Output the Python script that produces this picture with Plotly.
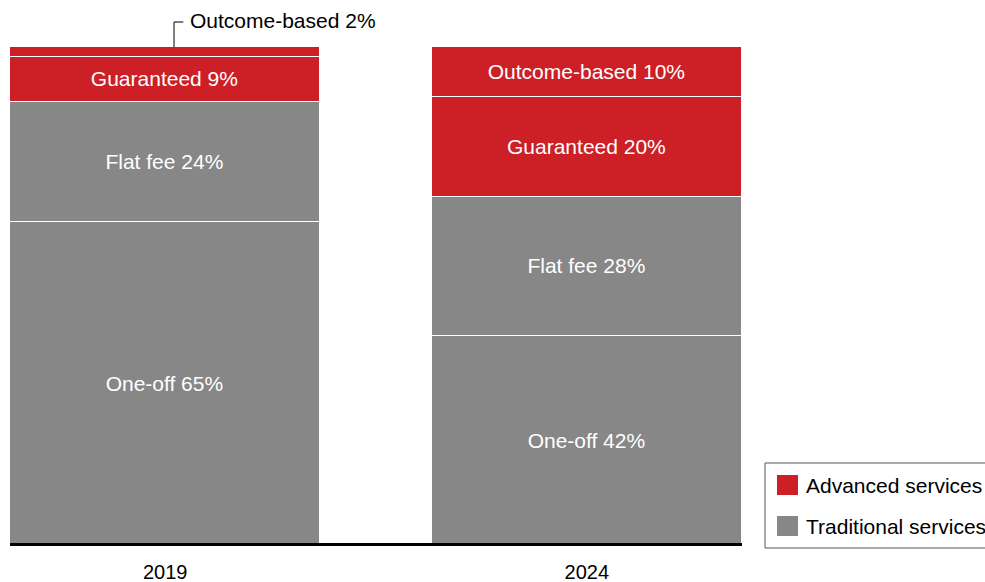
import plotly.graph_objects as go

years = ["2019", "2024"]
segments = ["One-off", "Flat fee", "Guaranteed", "Outcome-based"]
one_off = [65, 42]
flat_fee = [24, 28]
guaranteed = [9, 20]
outcome_based = [2, 10]
legend_labels = ["Advanced services", "Traditional services"]

RED = "#CC1F26"
GRAY = "#878787"
FONT = "Liberation Sans, Arial, sans-serif"

W, H = 985, 582
L, R, T, B = 10, 243, 47, 36
pw, ph = W - L - R, H - T - B

def pxx(x):
    return (x - L) / pw

def pyy(y):
    return (H - B - y) / ph

xpos = list(range(len(years)))
series = [
    ("One-off", one_off, GRAY),
    ("Flat fee", flat_fee, GRAY),
    ("Guaranteed", guaranteed, RED),
    ("Outcome-based", outcome_based, RED),
]

fig = go.Figure()
for name, vals, col in series:
    texts = []
    for v in vals:
        if name == "Outcome-based" and v < 5:
            texts.append("")
        else:
            texts.append(f"{name} {v}%")
    fig.add_trace(go.Bar(
        x=xpos, y=vals, name=name, width=0.736,
        marker=dict(color=col, line=dict(color="white", width=1.2)),
        text=texts, textposition="inside", insidetextanchor="middle",
        textfont=dict(color="white", size=21, family=FONT),
        showlegend=False, hoverinfo="skip",
    ))

# annotation for small 2019 outcome-based segment
small = outcome_based[0]
fig.add_annotation(
    x=0.0546, xref="x", y=pyy(21), yref="paper",
    text=f"Outcome-based {small}%", showarrow=False,
    xanchor="left", yanchor="middle",
    font=dict(size=21, color="black", family=FONT),
)
fig.add_shape(type="path", xref="x", yref="paper",
              path=f"M 0.021,{pyy(47)} L 0.021,{pyy(22)} L 0.043,{pyy(22)}",
              line=dict(color="black", width=1))

# baseline
fig.add_shape(type="line", xref="paper", yref="y", x0=0, x1=1, y0=0, y1=0,
              layer="above", line=dict(color="black", width=6))

# manual legend
fig.add_shape(type="rect", xref="paper", yref="paper",
              x0=pxx(765), x1=pxx(995), y0=pyy(548), y1=pyy(463),
              line=dict(color="#555555", width=1), fillcolor="white")
for i, (lab, col) in enumerate(zip(legend_labels, [RED, GRAY])):
    top = 475 + i * 41
    fig.add_shape(type="rect", xref="paper", yref="paper",
                  x0=pxx(777), x1=pxx(798), y0=pyy(top + 20), y1=pyy(top),
                  line=dict(width=0), fillcolor=col)
    fig.add_annotation(x=pxx(804), y=pyy(top + 10), xref="paper", yref="paper",
                       text=lab, showarrow=False, xanchor="left", yanchor="middle",
                       font=dict(size=21, color="black", family=FONT))

fig.update_layout(
    barmode="stack",
    width=W, height=H, autosize=False,
    margin=dict(l=L, r=R, t=T, b=B),
    plot_bgcolor="white", paper_bgcolor="white",
    font=dict(family=FONT, color="black"),
    bargap=0,
)
fig.update_xaxes(range=[-0.368, 1.368], tickvals=xpos, ticktext=years,
                 showgrid=False, zeroline=False, showline=False, ticks="",
                 tickfont=dict(size=20, family=FONT, color="black"),
                 ticklabelstandoff=12, automargin=False)
fig.update_yaxes(range=[0, 100], visible=False, showgrid=False, zeroline=False,
                 automargin=False)

fig.write_html("out.html", config={"responsive": False, "displayModeBar": False},
               default_width=f"{W}px", default_height=f"{H}px")

with open("out.html", "r", encoding="utf-8") as f:
    html = f.read()
html = html.replace("<head>", "<head><style>html,body{margin:0;padding:0;overflow:hidden;}</style>", 1)
with open("out.html", "w", encoding="utf-8") as f:
    f.write(html)
